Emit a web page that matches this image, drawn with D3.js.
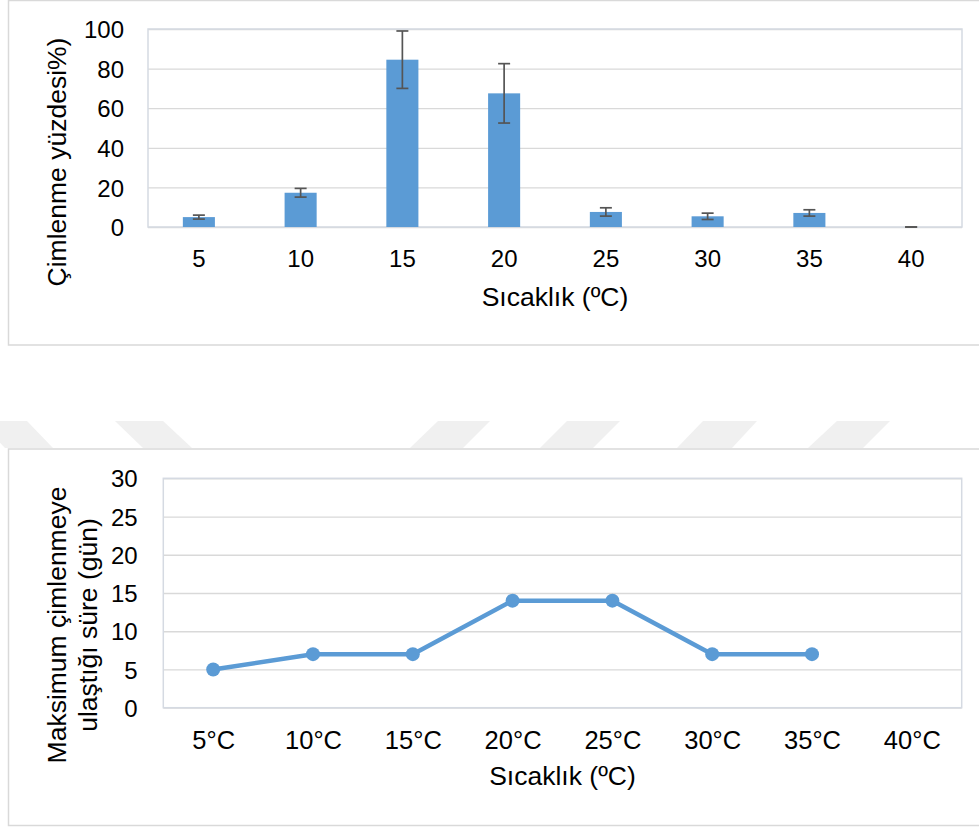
<!DOCTYPE html>
<html>
<head>
<meta charset="utf-8">
<script src="https://cdn.jsdelivr.net/npm/d3@7"></script>
<style>
	body { margin: 0; background: #fff; }
	text { font-family: "Liberation Sans", Arial, sans-serif; fill: #000; }
	.grid line { stroke: #d9d9d9; stroke-width: 1.3; }
	.grid .domain { display: none; }
	.xAxis .domain { display: none; }
</style>
</head>
<body>
<div class="chart"></div>
<script>
var WIDTH = 979,
	HEIGHT = 827,
	BLUE = "#5b9bd5";

// top chart: germination percentage
var barCats = ["5", "10", "15", "20", "25", "30", "35", "40"];
var barVals = [5, 17.3, 84.5, 67.5, 7.6, 5.4, 7.1, 0];
var barErr = [1, 2.2, 14.5, 15, 2.1, 1.6, 1.6, 0];
var barTicks = [0, 20, 40, 60, 80, 100];

// bottom chart: days to max germination
var lineCats = ["5°C", "10°C", "15°C", "20°C", "25°C", "30°C", "35°C", "40°C"];
var lineVals = [5, 7, 7, 14, 14, 7, 7, null];
var lineTicks = [0, 5, 10, 15, 20, 25, 30];

var svg = d3.select(".chart").append("svg")
	.attr("width", WIDTH)
	.attr("height", HEIGHT);

// faint watermark bands between the charts
var marks = [
	[[-21, 421], [27, 421], [53, 448], [5, 448]],
	[[115, 421], [163, 421], [192, 448], [143, 448]],
	[[438, 421], [490, 421], [463, 448], [410, 448]],
	[[567, 421], [620, 421], [593, 448], [540, 448]],
	[[703, 421], [757, 421], [732, 448], [677, 448]],
	[[837, 421], [890, 421], [863, 448], [808, 448]]
];
svg.selectAll(".wm")
	.data(marks)
	.enter()
	.append("polygon")
	.attr("class", "wm")
	.attr("points", function(d) { return d.join(" "); })
	.attr("fill", "#f0f0f0");

// outer frames
svg.append("rect")
	.attr("x", 8.5).attr("y", 0.5)
	.attr("width", 990).attr("height", 344.5)
	.attr("fill", "none").attr("stroke", "#d9d9d9").attr("stroke-width", 1.5);
svg.append("rect")
	.attr("x", 8.5).attr("y", 449)
	.attr("width", 990).attr("height", 376.5)
	.attr("fill", "#fff").attr("stroke", "#d9d9d9").attr("stroke-width", 1.5);

// ---------- bar chart ----------
var b = { left: 148, top: 29, right: 962, bottom: 227 };
var bw = b.right - b.left, bh = b.bottom - b.top;

var xBar = d3.scaleBand()
	.domain(barCats)
	.range([0, bw])
	.paddingInner(0.685)
	.paddingOuter(0.3425);

var yBar = d3.scaleLinear()
	.domain([0, 100])
	.range([bh, 0]);

var barChart = svg.append("g")
	.attr("transform", "translate(" + b.left + "," + b.top + ")");

barChart.append("g")
	.attr("class", "grid")
	.call(d3.axisLeft(yBar).tickValues(barTicks).tickSize(-bw).tickPadding(24))
	.selectAll("text")
	.style("font-size", "24px")
	.attr("dy", "0.36em");

barChart.append("rect")
	.attr("width", bw).attr("height", bh)
	.attr("fill", "none").attr("stroke", "#d5dae2").attr("stroke-width", 1.5);

barChart.append("g")
	.attr("class", "xAxis")
	.attr("transform", "translate(0," + bh + ")")
	.call(d3.axisBottom(xBar).tickSize(0).tickPadding(23))
	.selectAll("text")
	.style("font-size", "24px");

barChart.selectAll(".bar")
	.data(barVals)
	.enter()
	.append("rect")
	.attr("class", "bar")
	.attr("x", function(d, i) { return xBar(barCats[i]); })
	.attr("y", function(d) { return yBar(d); })
	.attr("width", xBar.bandwidth())
	.attr("height", function(d) { return bh - yBar(d); })
	.attr("fill", BLUE);

var err = barChart.selectAll(".err")
	.data(barVals)
	.enter()
	.append("g")
	.attr("class", "err")
	.attr("transform", function(d, i) { return "translate(" + (xBar(barCats[i]) + xBar.bandwidth() / 2) + ",0)"; })
	.attr("stroke", "#555555")
	.attr("stroke-width", 1.7);

err.append("line")
	.attr("y1", function(d, i) { return yBar(d + barErr[i]); })
	.attr("y2", function(d, i) { return yBar(d - barErr[i]); });
err.append("line")
	.attr("x1", -6).attr("x2", 6)
	.attr("y1", function(d, i) { return yBar(d + barErr[i]); })
	.attr("y2", function(d, i) { return yBar(d + barErr[i]); });
err.append("line")
	.attr("x1", -6).attr("x2", 6)
	.attr("y1", function(d, i) { return yBar(d - barErr[i]); })
	.attr("y2", function(d, i) { return yBar(d - barErr[i]); });

svg.append("text")
	.attr("transform", "translate(66,162) rotate(-90)")
	.attr("text-anchor", "middle")
	.style("font-size", "26.5px")
	.text("Çimlenme yüzdesi%)");

svg.append("text")
	.attr("x", (b.left + b.right) / 2)
	.attr("y", 306)
	.attr("text-anchor", "middle")
	.style("font-size", "26.5px")
	.text("Sıcaklık (ºC)");

// ---------- line chart ----------
var l = { left: 163.3, top: 478.3, right: 961.7, bottom: 707.7 };
var lw = l.right - l.left, lh = l.bottom - l.top;

var xLine = d3.scalePoint()
	.domain(lineCats)
	.range([0, lw])
	.padding(0.5);

var yLine = d3.scaleLinear()
	.domain([0, 30])
	.range([lh, 0]);

var lineChart = svg.append("g")
	.attr("transform", "translate(" + l.left + "," + l.top + ")");

lineChart.append("g")
	.attr("class", "grid")
	.call(d3.axisLeft(yLine).tickValues(lineTicks).tickSize(-lw).tickPadding(25.6))
	.selectAll("text")
	.style("font-size", "24px")
	.attr("dy", "0.36em");

lineChart.append("rect")
	.attr("width", lw).attr("height", lh)
	.attr("fill", "none").attr("stroke", "#d5dae2").attr("stroke-width", 1.5);

lineChart.append("g")
	.attr("class", "xAxis")
	.attr("transform", "translate(0," + lh + ")")
	.call(d3.axisBottom(xLine).tickSize(0).tickPadding(23.2))
	.selectAll("text")
	.style("font-size", "25.5px");

var points = lineVals.map(function(v, i) { return { cat: lineCats[i], val: v }; });

var line = d3.line()
	.defined(function(d) { return d.val != null; })
	.x(function(d) { return xLine(d.cat); })
	.y(function(d) { return yLine(d.val); });

lineChart.append("path")
	.attr("d", line(points))
	.attr("fill", "none")
	.attr("stroke", BLUE)
	.attr("stroke-width", 4.5)
	.attr("stroke-linejoin", "round");

lineChart.selectAll(".dot")
	.data(points.filter(function(d) { return d.val != null; }))
	.enter()
	.append("circle")
	.attr("class", "dot")
	.attr("cx", function(d) { return xLine(d.cat); })
	.attr("cy", function(d) { return yLine(d.val); })
	.attr("r", 7)
	.attr("fill", BLUE);

svg.append("text")
	.attr("transform", "translate(66,625) rotate(-90)")
	.attr("text-anchor", "middle")
	.style("font-size", "26.5px")
	.text("Maksimum çimlenmeye");
svg.append("text")
	.attr("transform", "translate(97,625) rotate(-90)")
	.attr("text-anchor", "middle")
	.style("font-size", "26.5px")
	.text("ulaştığı süre (gün)");

svg.append("text")
	.attr("x", (l.left + l.right) / 2)
	.attr("y", 785)
	.attr("text-anchor", "middle")
	.style("font-size", "26.5px")
	.text("Sıcaklık (ºC)");
</script>
</body>
</html>
